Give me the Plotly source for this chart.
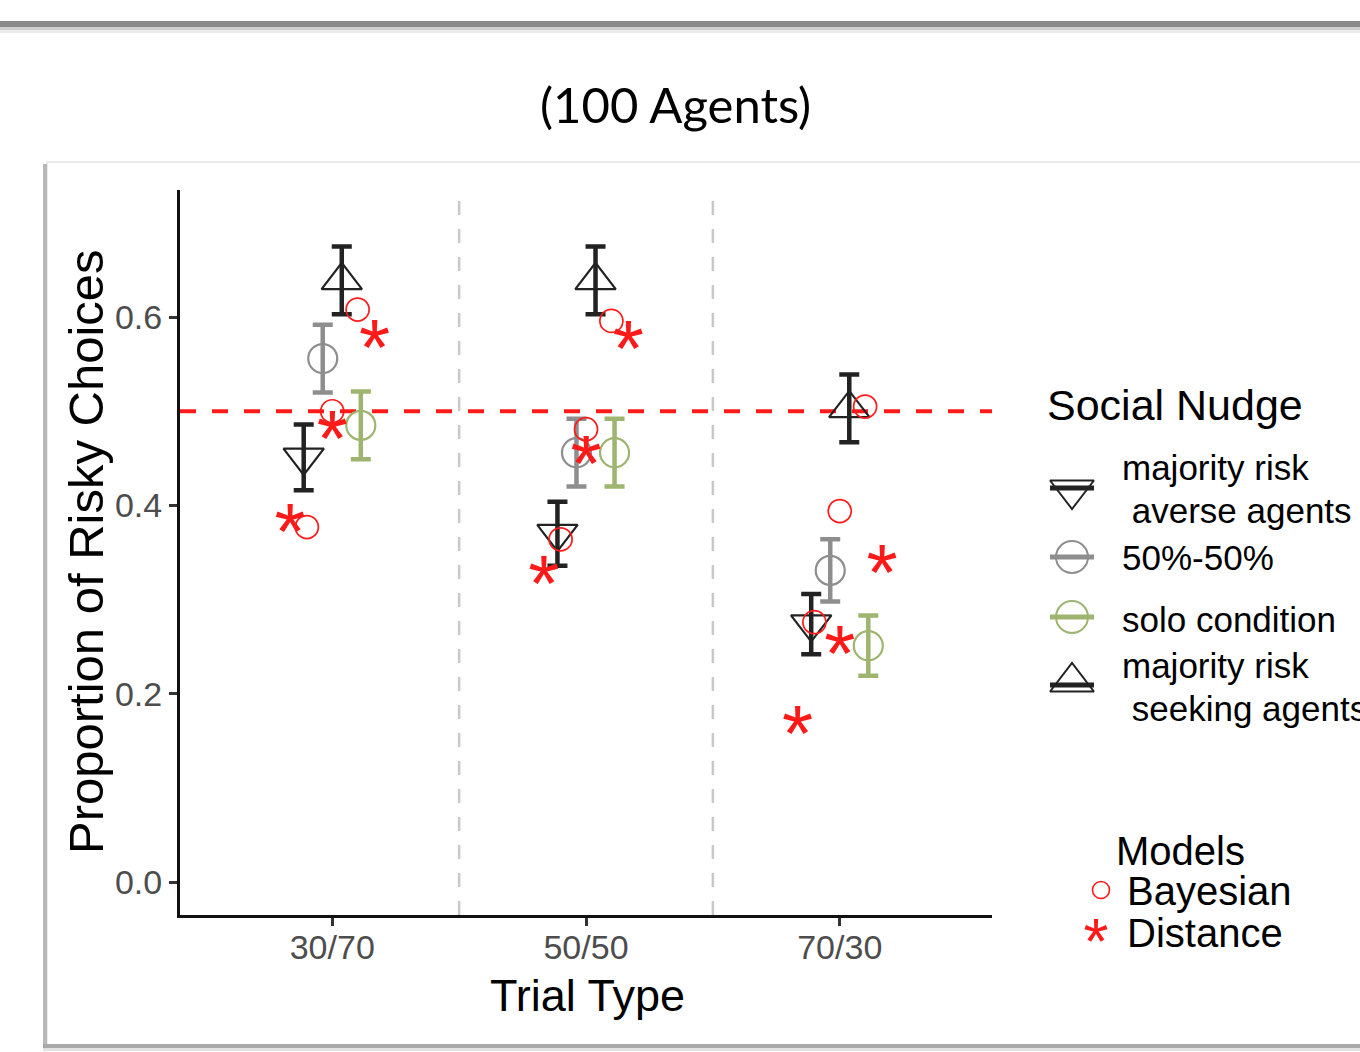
import plotly.graph_objects as go

W, H = 1360, 1052

# ---------------- data ----------------
trial_types = ["30/70", "50/50", "70/30"]

averse_mean = [0.451, 0.370, 0.274]
averse_err = [0.035, 0.034, 0.032]
fifty_mean = [0.556, 0.456, 0.331]
fifty_err = [0.036, 0.036, 0.033]
seeking_mean = [0.639, 0.639, 0.503]
seeking_err = [0.036, 0.036, 0.036]
solo_mean = [0.485, 0.456, 0.251]
solo_err = [0.036, 0.036, 0.032]

bayes_averse = [0.377, 0.364, 0.276]
bayes_fifty = [0.500, 0.481, 0.394]
bayes_seeking = [0.608, 0.596, 0.505]

dist_averse = [0.385, 0.329, 0.170]
dist_fifty = [0.483, 0.457, 0.255]
dist_seeking = [0.580, 0.579, 0.341]

chance_level = 0.5
y_ticks = [0.0, 0.2, 0.4, 0.6]

# ---------------- style ----------------
BLACK = "#222222"
GRAY = "#8e8e8e"
GREEN = "#9db56f"
RED = "#ff1a1a"
FONT = "Liberation Sans"

Y_RANGE = [-0.035, 0.735]
X_RANGE = [0.4, 3.6]
PLOT_L, PLOT_R, PLOT_T, PLOT_B = 180, 992, 190, 915
px_per_unit = (PLOT_B - PLOT_T) / (Y_RANGE[1] - Y_RANGE[0])

STAR_SIZE = 80
STAR_SHIFT_EM = 0.24
star_shift = STAR_SHIFT_EM * STAR_SIZE / px_per_unit

def pxx(v):
    return v / W

def pxy(v):
    return 1 - v / H

base = [i + 1 for i in range(len(trial_types))]

fig = go.Figure()

conds = [
    (averse_mean, averse_err, "triangle-down-open", BLACK, -0.1125, 35),
    (fifty_mean, fifty_err, "circle-open", GRAY, -0.0375, 29),
    (seeking_mean, seeking_err, "triangle-up-open", BLACK, 0.0375, 35),
    (solo_mean, solo_err, "circle-open", GREEN, 0.1125, 29),
]
for mean, err, sym, col, off, sz in conds:
    fig.add_trace(go.Scatter(
        x=[b + off for b in base], y=mean, mode="markers",
        marker=dict(symbol=sym, size=sz, color=col, line=dict(color=col, width=2.2)),
        error_y=dict(type="data", array=err, color=col, thickness=4.5, width=10),
        showlegend=False, hoverinfo="skip"))

for vals, off in [(bayes_averse, -0.1), (bayes_fifty, 0.0), (bayes_seeking, 0.1)]:
    fig.add_trace(go.Scatter(
        x=[b + off for b in base], y=vals, mode="markers",
        marker=dict(symbol="circle-open", size=23, color=RED, line=dict(color=RED, width=1.7)),
        showlegend=False, hoverinfo="skip"))

for vals, off in [(dist_averse, -0.1667), (dist_fifty, 0.0), (dist_seeking, 0.1667)]:
    fig.add_trace(go.Scatter(
        x=[b + off for b in base], y=vals, mode="text", text=["*"] * len(vals),
        textposition="middle center",
        textfont=dict(family=FONT, size=STAR_SIZE, color=RED),
        yaxis="y3", showlegend=False, hoverinfo="skip"))

# ---------------- legend glyphs on a pixel helper axis ----------------
leg_x = 1072
leg_items = [
    ("triangle-down-open", BLACK, 490, 38),
    ("circle-open", GRAY, 557, 32),
    ("circle-open", GREEN, 617, 32),
    ("triangle-up-open", BLACK, 682, 38),
]
for sym, col, ly, sz in leg_items:
    fig.add_trace(go.Scatter(
        x=[leg_x], y=[ly], mode="markers",
        marker=dict(symbol=sym, size=sz, color=col, line=dict(color=col, width=2)),
        xaxis="x2", yaxis="y2", showlegend=False, hoverinfo="skip"))
fig.add_trace(go.Scatter(
    x=[1101], y=[890], mode="markers",
    marker=dict(symbol="circle-open", size=17, color=RED, line=dict(color=RED, width=1.6)),
    xaxis="x2", yaxis="y2", showlegend=False, hoverinfo="skip"))
LEG_STAR = 64
fig.add_trace(go.Scatter(
    x=[1096], y=[933 + STAR_SHIFT_EM * LEG_STAR], mode="text", text=["*"],
    textposition="middle center", textfont=dict(family=FONT, size=LEG_STAR, color=RED),
    xaxis="x2", yaxis="y2", showlegend=False, hoverinfo="skip"))

shapes = []
# page decoration
shapes.append(dict(type="rect", xref="paper", yref="paper", x0=0, x1=1, y0=pxy(27), y1=pxy(21),
                   fillcolor="#8a8a8a", line=dict(width=0), layer="below"))
shapes.append(dict(type="rect", xref="paper", yref="paper", x0=0, x1=1, y0=pxy(30), y1=pxy(27),
                   fillcolor="#cfcfcf", line=dict(width=0), layer="below"))
shapes.append(dict(type="rect", xref="paper", yref="paper", x0=0, x1=1, y0=pxy(33), y1=pxy(30),
                   fillcolor="#ededed", line=dict(width=0), layer="below"))
# panel frame
shapes.append(dict(type="rect", xref="paper", yref="paper", x0=pxx(47), x1=pxx(1370), y0=pxy(1045), y1=pxy(162),
                   fillcolor="rgba(0,0,0,0)", line=dict(color="#e4e4e4", width=1.5), layer="below"))
shapes.append(dict(type="rect", xref="paper", yref="paper", x0=pxx(43), x1=pxx(47), y0=pxy(1047), y1=pxy(164),
                   fillcolor="#b8b8b8", line=dict(width=0), layer="below"))
shapes.append(dict(type="rect", xref="paper", yref="paper", x0=pxx(43), x1=1, y0=pxy(1048), y1=pxy(1044),
                   fillcolor="#a9a9a9", line=dict(width=0), layer="below"))
shapes.append(dict(type="rect", xref="paper", yref="paper", x0=pxx(43), x1=1, y0=pxy(1051), y1=pxy(1048),
                   fillcolor="#e2e2e2", line=dict(width=0), layer="below"))
# vertical separators
for xv in [1.5, 2.5]:
    shapes.append(dict(type="line", xref="x", yref="paper", x0=xv, x1=xv,
                       y0=pxy(PLOT_B), y1=pxy(PLOT_T),
                       line=dict(color="#c8c8c8", width=2.5, dash="14px,14px"), layer="below"))
# chance line
shapes.append(dict(type="line", xref="paper", yref="y", x0=pxx(PLOT_L), x1=pxx(PLOT_R),
                   y0=chance_level, y1=chance_level,
                   line=dict(color=RED, width=4, dash="16px,16px"), layer="below"))
# legend key bars
bar_dy = {"triangle-down-open": -2, "circle-open": 0, "triangle-up-open": 3}
for sym, col, ly, sz in leg_items:
    yb = ly + bar_dy[sym]
    shapes.append(dict(type="line", xref="paper", yref="paper", x0=pxx(1050), x1=pxx(1094),
                       y0=pxy(yb), y1=pxy(yb), line=dict(color=col, width=5)))

annotations = []
def ann(text, x, y, size, color="#000000", xanchor="left", yanchor="middle", family=FONT, angle=0):
    annotations.append(dict(text=text, x=pxx(x), y=pxy(y), xref="paper", yref="paper",
                            xanchor=xanchor, yanchor=yanchor, showarrow=False, textangle=angle,
                            font=dict(family=family, size=size, color=color)))

ann("(100 Agents)", 675, 104, 49, xanchor="center", family="Lato")
ann("Proportion of Risky Choices", 86, 552, 49, xanchor="center", angle=-90)
ann("Trial Type", 587, 995, 45, xanchor="center")
ann("Social Nudge", 1045, 405, 43)
ann("majority risk", 1120, 468, 35)
ann(" averse agents", 1120, 510, 35)
ann("50%-50%", 1120, 557, 35)
ann("solo condition", 1120, 619, 35)
ann("majority risk", 1120, 665, 35)
ann(" seeking agents", 1120, 708, 35)
ann("Models", 1114, 851, 40)
ann("Bayesian", 1125, 891, 40)
ann("Distance", 1125, 933, 40)

fig.update_layout(
    width=W, height=H,
    margin=dict(l=0, r=0, t=0, b=0),
    paper_bgcolor="white", plot_bgcolor="rgba(0,0,0,0)",
    showlegend=False,
    xaxis=dict(domain=[pxx(PLOT_L), pxx(PLOT_R)], range=X_RANGE,
               tickvals=base, ticktext=trial_types,
               showline=True, linecolor="#111111", linewidth=3,
               ticks="outside", ticklen=8, tickwidth=3, tickcolor="#333333",
               tickfont=dict(family=FONT, size=34, color="#4d4d4d"),
               ticklabelstandoff=-8,
               showgrid=False, zeroline=False, anchor="y"),
    yaxis=dict(domain=[pxy(PLOT_B), pxy(PLOT_T)], range=Y_RANGE,
               tickvals=y_ticks, tickformat=".1f",
               showline=True, linecolor="#111111", linewidth=3,
               ticks="outside", ticklen=8, tickwidth=3, tickcolor="#333333",
               tickfont=dict(family=FONT, size=34, color="#4d4d4d"),
               showgrid=False, zeroline=False, anchor="x"),
    yaxis3=dict(overlaying="y", range=[Y_RANGE[0] + star_shift, Y_RANGE[1] + star_shift],
                visible=False, anchor="x"),
    xaxis2=dict(domain=[0, 1], range=[0, W], visible=False, anchor="y2"),
    yaxis2=dict(domain=[0, 1], range=[H, 0], visible=False, anchor="x2"),
    shapes=shapes, annotations=annotations,
)

fig.write_html("out.html", config={"displayModeBar": False},
               post_script="document.body.style.margin='0px';document.body.style.overflow='hidden';")
